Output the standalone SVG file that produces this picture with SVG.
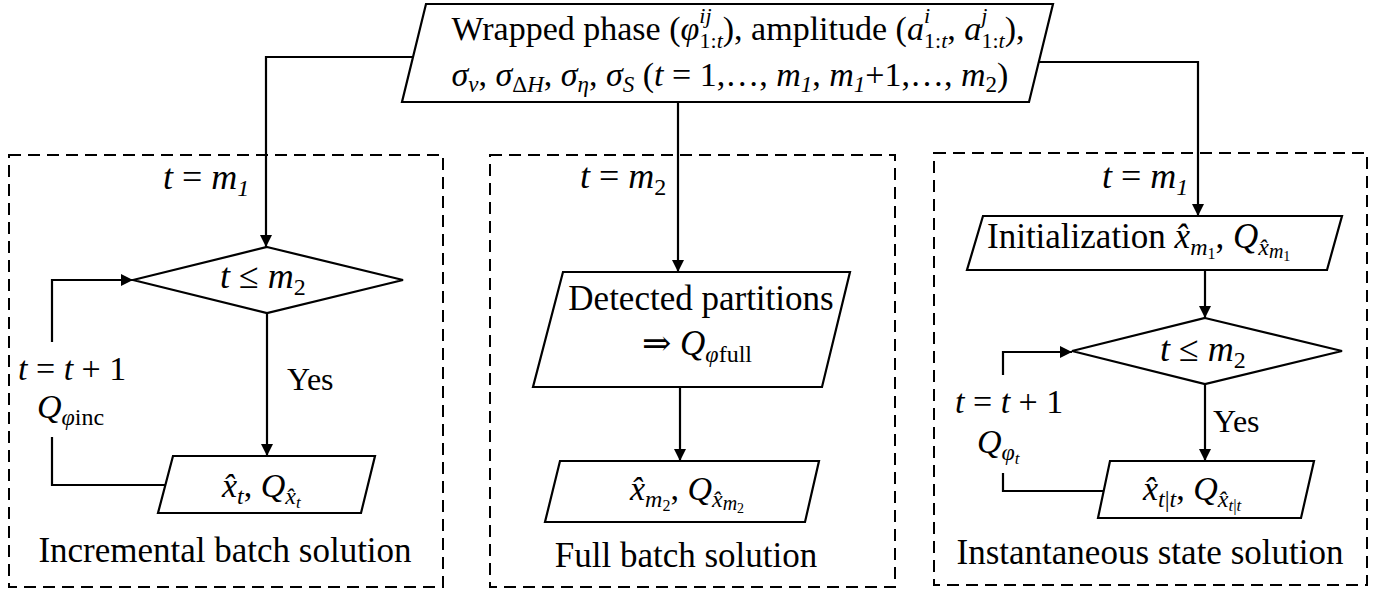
<svg xmlns="http://www.w3.org/2000/svg" width="1387" height="591" viewBox="0 0 1387 591" font-family="'Liberation Serif', 'Times New Roman', Tinos, 'DejaVu Serif', serif">
<defs>
<style>
text { font-family: "Liberation Serif", "Times New Roman", Tinos, "DejaVu Serif", serif; fill: #000; }
.m { font-style: italic; }
.shape { fill: #fff; stroke: #000; stroke-width: 2.2; }
.ln { fill: none; stroke: #000; stroke-width: 2.2; }
.dash { fill: none; stroke: #000; stroke-width: 2; stroke-dasharray: 12 7; }
.big { font-size: 35px; }
.mid { font-size: 34px; }
</style>
<marker id="arr" viewBox="0 0 12 12" refX="12" refY="6" markerWidth="12" markerHeight="12" markerUnits="userSpaceOnUse" orient="auto">
<path d="M0,0 L12,6 L0,12 z" fill="#000"/>
</marker>
</defs>
<rect width="1387" height="591" fill="#fff"/>

<g id="box-incremental">
<rect class="dash" x="9" y="155" width="434" height="432"/>
<text class="big" x="225" y="562" text-anchor="middle">Incremental batch solution</text>
</g>
<g id="box-full">
<rect class="dash" x="490" y="155" width="405" height="432"/>
<text class="big" x="686" y="567" text-anchor="middle">Full batch solution</text>
</g>
<g id="box-instant">
<rect class="dash" x="934" y="153" width="433" height="432"/>
<text class="big" x="1150" y="564" text-anchor="middle">Instantaneous state solution</text>
</g>

<g id="connectors">
<polyline class="ln" points="413,57 266,57 266,247" marker-end="url(#arr)"/>
<polyline class="ln" points="678,102 678,272" marker-end="url(#arr)"/>
<polyline class="ln" points="1039,62 1198,62 1198,216" marker-end="url(#arr)"/>
<polyline class="ln" points="267,313 267,456" marker-end="url(#arr)"/>
<polyline class="ln" points="52,342 52,280 133,280" marker-end="url(#arr)"/>
<polyline class="ln" points="165,485 52,485 52,437"/>
<polyline class="ln" points="680,387 680,461" marker-end="url(#arr)"/>
<polyline class="ln" points="1205,270 1205,318" marker-end="url(#arr)"/>
<polyline class="ln" points="1205,384 1205,461" marker-end="url(#arr)"/>
<polyline class="ln" points="1003,375 1003,352 1072,352" marker-end="url(#arr)"/>
<polyline class="ln" points="1104,491 1003,491 1003,473"/>
<text class="mid" x="18" y="380"><tspan class="m">t</tspan> = <tspan class="m">t</tspan> + 1</text>
<text class="mid" x="37" y="418"><tspan class="m">Q</tspan><tspan font-size="24" dy="7" class="m">φ</tspan><tspan font-size="24">inc</tspan></text>
<text x="287" y="390" font-size="32">Yes</text>
<text class="mid" x="955" y="413"><tspan class="m">t</tspan> = <tspan class="m">t</tspan> + 1</text>
<text class="mid" x="977" y="453"><tspan class="m">Q</tspan><tspan font-size="24" dy="7" class="m">φ</tspan><tspan font-size="17" dy="4" class="m">t</tspan></text>
<text x="1213" y="432" font-size="32">Yes</text>
</g>

<g id="input">
<polygon class="shape" points="426,4 1053,4 1029,102 402,102"/>
<text font-size="34" x="738" y="40" text-anchor="middle">Wrapped phase (<tspan class="m">φ</tspan><tspan font-size="22" class="m" dy="-17">ij</tspan><tspan font-size="22" dx="-12" dy="25">1:</tspan><tspan font-size="22" class="m">t</tspan><tspan dy="-8">), amplitude (</tspan><tspan class="m">a</tspan><tspan font-size="22" class="m" dy="-17">i</tspan><tspan font-size="22" dx="-6" dy="25">1:</tspan><tspan font-size="22" class="m">t</tspan><tspan dy="-8">, </tspan><tspan class="m">a</tspan><tspan font-size="22" class="m" dy="-17">j</tspan><tspan font-size="22" dx="-6" dy="25">1:</tspan><tspan font-size="22" class="m">t</tspan><tspan dy="-8">),</tspan></text>
<text font-size="34" x="730" y="86" text-anchor="middle"><tspan class="m">σ</tspan><tspan font-size="23" class="m" dy="6">v</tspan><tspan dy="-6">, </tspan><tspan class="m">σ</tspan><tspan font-size="23" dy="6">Δ</tspan><tspan font-size="23" class="m">H</tspan><tspan dy="-6">, </tspan><tspan class="m">σ</tspan><tspan font-size="23" class="m" dy="6">η</tspan><tspan dy="-6">, </tspan><tspan class="m">σ</tspan><tspan font-size="23" class="m" dy="6">S</tspan><tspan dy="-6"> (</tspan><tspan class="m">t</tspan> = 1,…, <tspan class="m">m</tspan><tspan font-size="23" class="m" dy="6">1</tspan><tspan dy="-6">, </tspan><tspan class="m">m</tspan><tspan font-size="23" class="m" dy="6">1</tspan><tspan dy="-6">+1,…, </tspan><tspan class="m">m</tspan><tspan font-size="23" dy="6">2</tspan><tspan dy="-6">)</tspan></text>
</g>

<g id="label-inc-start"><text font-size="36" x="163" y="189"><tspan class="m">t</tspan> = <tspan class="m">m</tspan><tspan class="m" font-size="24" dy="7">1</tspan></text></g>
<g id="decision-inc">
<polygon class="shape" points="267,247 403,280 267,313 133,280"/>
<text font-size="36" x="220" y="288"><tspan class="m">t</tspan> ≤ <tspan class="m">m</tspan><tspan font-size="24" dy="7">2</tspan></text>
</g>
<g id="output-inc">
<polygon class="shape" points="173,456 375,456 361,513 158,513"/>
<text class="mid" x="222" y="497"><tspan class="m">x̂</tspan><tspan font-size="24" class="m" dy="7">t</tspan><tspan dy="-7">, </tspan><tspan class="m">Q</tspan><tspan font-size="24" class="m" dy="7">x̂</tspan><tspan font-size="17" class="m" dy="4">t</tspan></text>
</g>

<g id="label-full-start"><text font-size="36" x="580" y="188"><tspan class="m">t</tspan> = <tspan class="m">m</tspan><tspan font-size="24" dy="7">2</tspan></text></g>
<g id="partitions">
<polygon class="shape" points="563,272 850,272 822,387 533,387"/>
<text class="big" x="701" y="310" text-anchor="middle">Detected partitions</text>
<text class="big" x="642" y="355">⇒ <tspan class="m">Q</tspan><tspan font-size="24" class="m" dy="7">φ</tspan><tspan font-size="24">full</tspan></text>
</g>
<g id="output-full">
<polygon class="shape" points="560,461 819,461 805,522 545,522"/>
<text class="mid" x="630" y="500"><tspan class="m">x̂</tspan><tspan font-size="24" class="m" dy="7">m</tspan><tspan font-size="16" dy="4">2</tspan><tspan dy="-11">, </tspan><tspan class="m">Q</tspan><tspan font-size="24" class="m" dy="7">x̂</tspan><tspan font-size="20" class="m" dy="3">m</tspan><tspan font-size="14" dy="3">2</tspan></text>
</g>

<g id="label-inst-start"><text font-size="36" x="1102" y="188"><tspan class="m">t</tspan> = <tspan class="m">m</tspan><tspan class="m" font-size="24" dy="7">1</tspan></text></g>
<g id="init">
<polygon class="shape" points="983,216 1342,216 1327,270 967,270"/>
<text class="big" x="987" y="248">Initialization <tspan class="m">x̂</tspan><tspan font-size="24" class="m" dy="7">m</tspan><tspan font-size="16" dy="4">1</tspan><tspan dy="-11">, </tspan><tspan class="m">Q</tspan><tspan font-size="24" class="m" dy="7">x̂</tspan><tspan font-size="20" class="m" dy="3">m</tspan><tspan font-size="14" dy="3">1</tspan></text>
</g>
<g id="decision-inst">
<polygon class="shape" points="1205,318 1342,351 1205,384 1072,351"/>
<text font-size="36" x="1160" y="361"><tspan class="m">t</tspan> ≤ <tspan class="m">m</tspan><tspan font-size="24" dy="7">2</tspan></text>
</g>
<g id="output-inst">
<polygon class="shape" points="1110,461 1314,461 1301,518 1098,518"/>
<text class="mid" x="1143" y="500"><tspan class="m">x̂</tspan><tspan font-size="24" class="m" dy="7">t</tspan><tspan font-size="24">|</tspan><tspan font-size="24" class="m">t</tspan><tspan dy="-7">, </tspan><tspan class="m">Q</tspan><tspan font-size="24" class="m" dy="7">x̂</tspan><tspan font-size="17" class="m" dy="4">t</tspan><tspan font-size="17">|</tspan><tspan font-size="17" class="m">t</tspan></text>
</g>
</svg>
